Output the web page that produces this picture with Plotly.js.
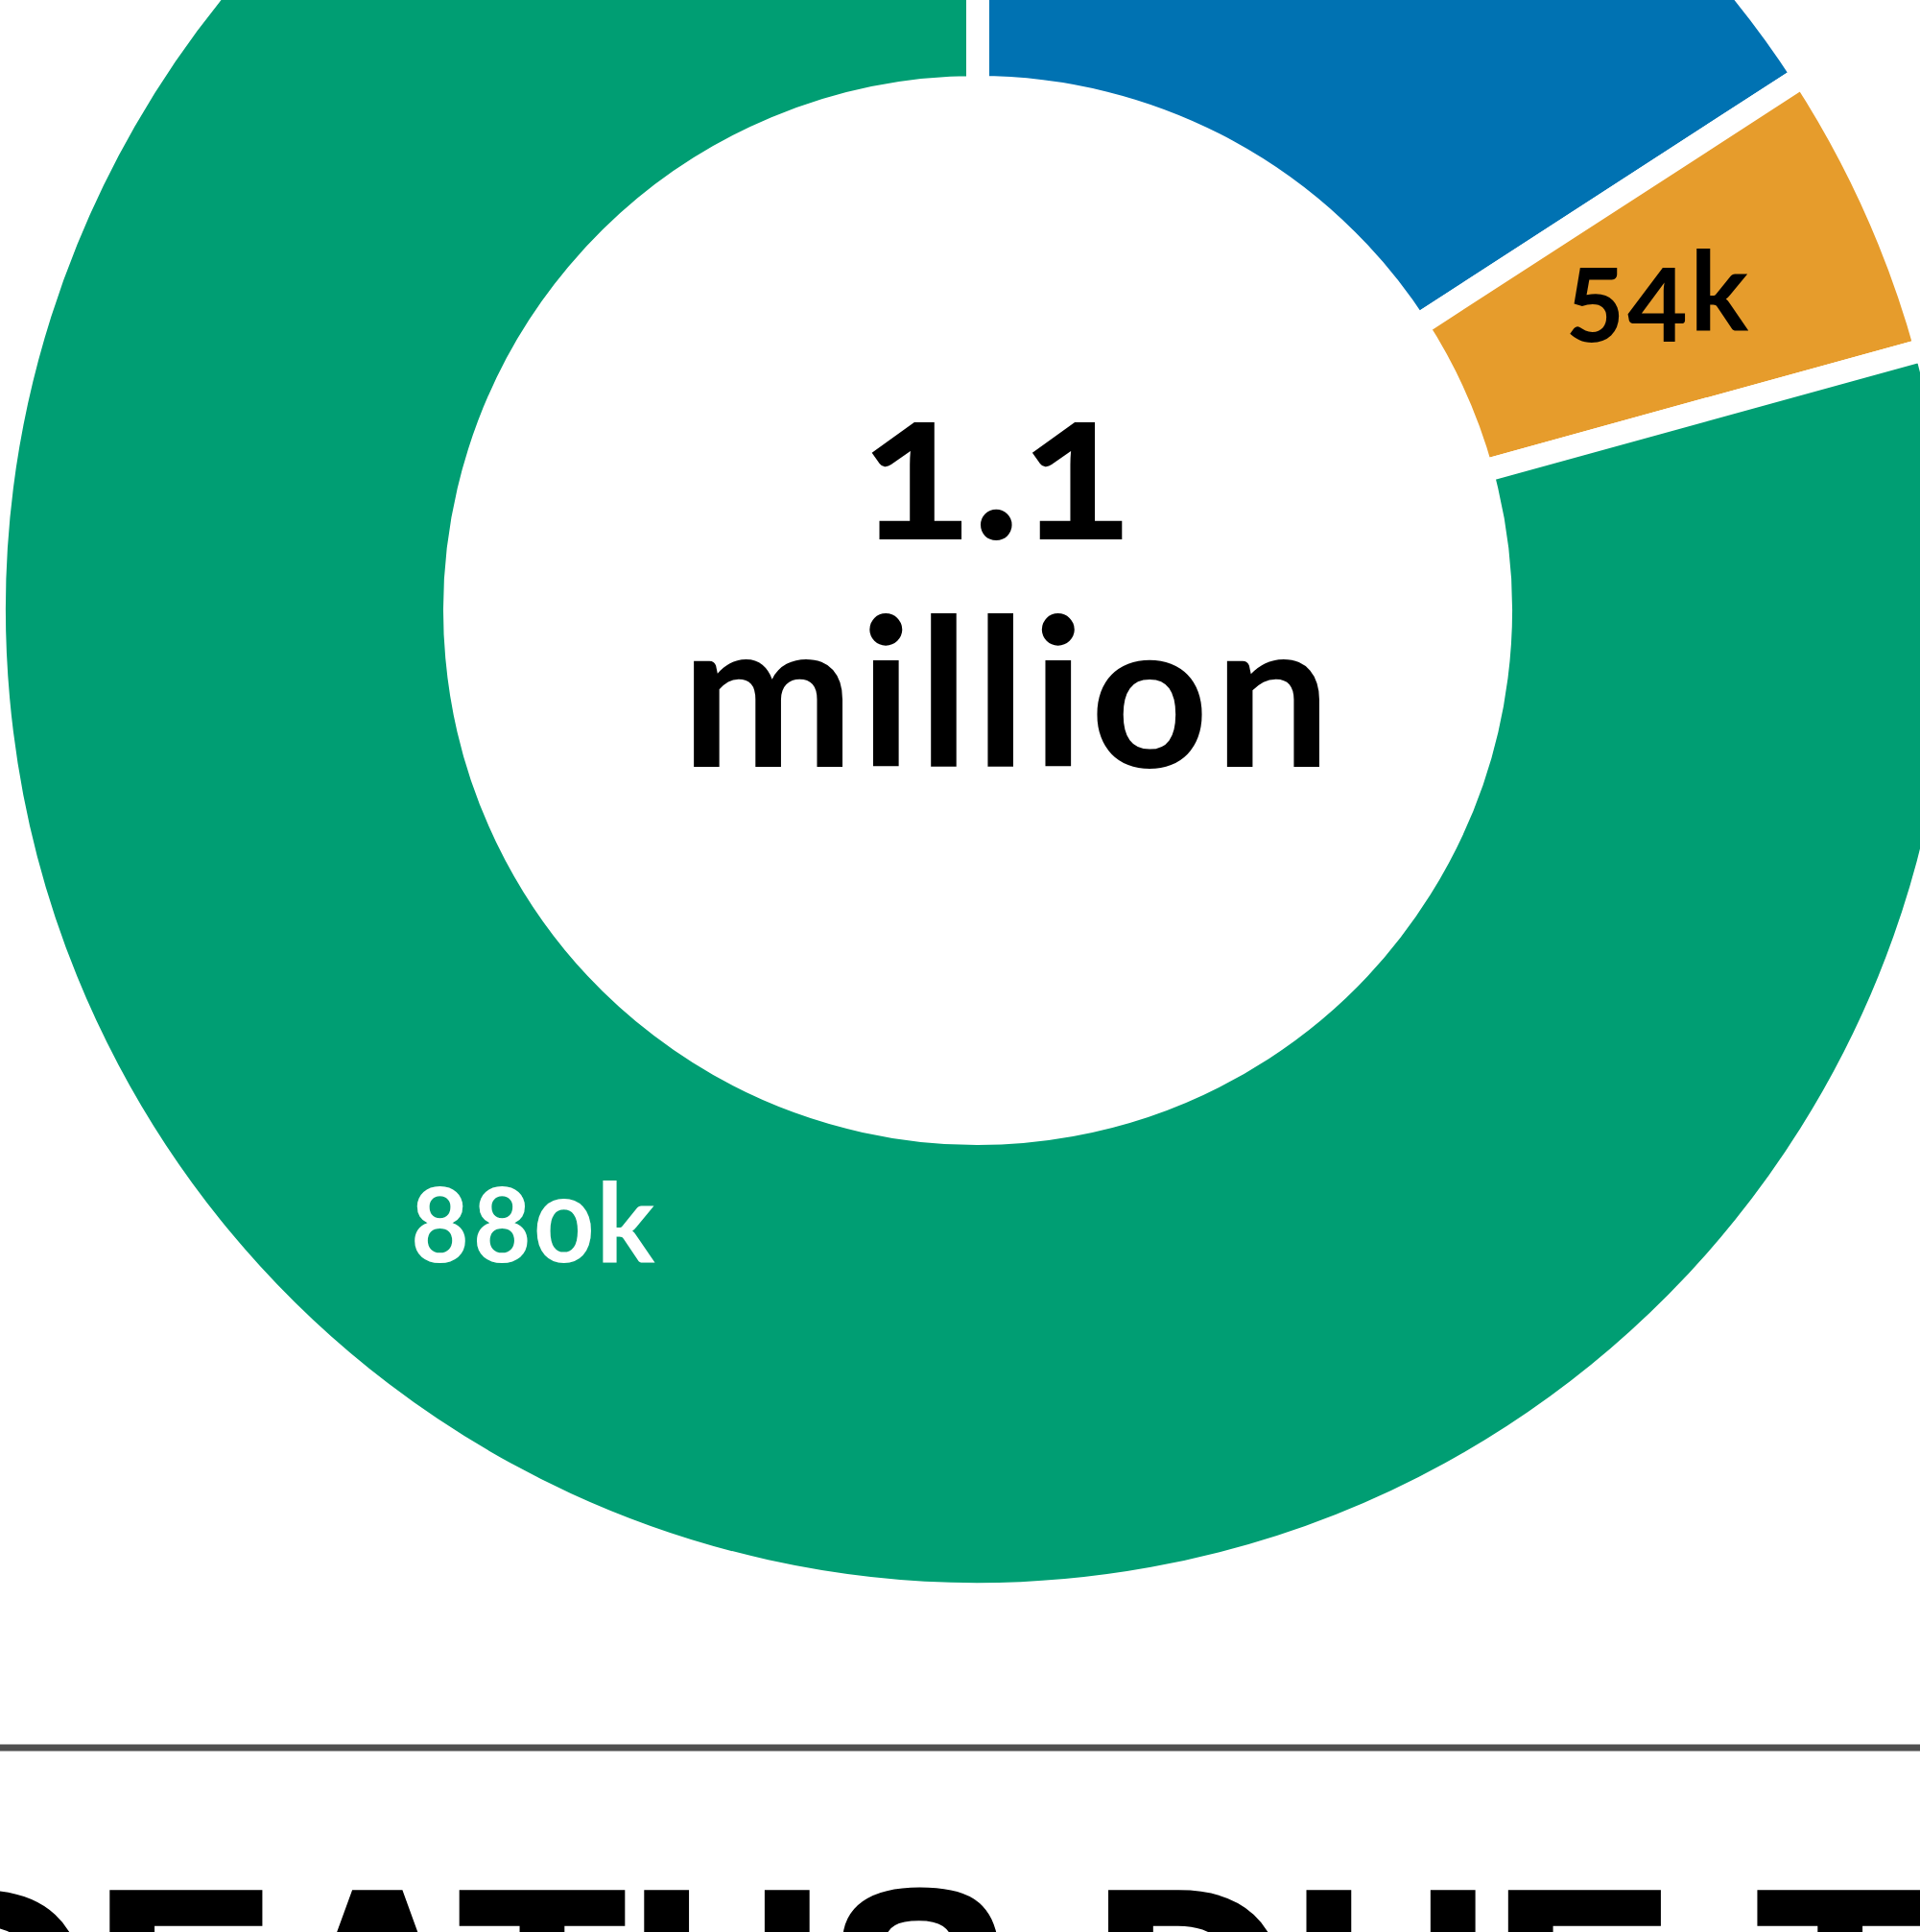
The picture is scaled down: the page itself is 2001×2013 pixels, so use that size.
<!DOCTYPE html>
<html>
<head>
<meta charset="utf-8">
<script src="https://cdn.plot.ly/plotly-3.0.1.min.js"></script>
<style>
  html, body { margin:0; padding:0; background:#ffffff; overflow:hidden; width:2001px; height:2013px; }
  #chart { position:absolute; left:-200px; top:-500px; width:2400px; height:3000px; }
  #chart svg text { font-variant-numeric: oldstyle-nums; font-feature-settings: "onum" 1; }
  #chart g.annotation[data-index="1"] text { letter-spacing: 6px; }
  #chart g.annotation[data-index="3"] text,
  #chart g.annotation[data-index="4"] text,
  #chart g.annotation[data-index="5"] text { letter-spacing: 3px; }
  #chart g.annotation[data-index="2"] text { stroke:#000000; stroke-width:6px; stroke-linejoin:miter; letter-spacing: 4px; }
</style>
</head>
<body>
<div id="chart"></div>
<script>
// ---- data ----
var categories = ["Blue group", "Orange group", "Green group"];
var values = [176, 54, 880];            // thousands
var sliceColors = ["#0072B2", "#E69C2C", "#009E73"];
var labelColors = ["#ffffff", "#000000", "#ffffff"];
var footerText = "DEATHS DUE TO";

var sliceText = values.map(function(v){ return v + "k"; });
var total = values.reduce(function(a,b){ return a+b; }, 0);
var totalLine1 = (total/1000).toFixed(1);
var totalLine2 = "million";

// ---- geometry (div px) ----
var W = 2400, H = 3000;
function px(x){ return x / W; }
function py(y){ return 1 - y / H; }
var cx = 1219, cy = 1136, R = 1025, hole = 0.5317;
var labelAngleNudge = -1.2 * Math.PI / 180;

var trace = {
  type: "pie",
  labels: categories,
  values: values,
  textinfo: "none",
  sort: false,
  direction: "clockwise",
  rotation: 0,
  hole: hole,
  marker: { colors: sliceColors, line: { color: "#ffffff", width: 24 } },
  domain: { x: [px(cx - R), px(cx + R)], y: [py(cy + R), py(cy - R)] },
  showlegend: false,
  hoverinfo: "none"
};

var annotations = [
  { text: totalLine1, xref:"paper", yref:"paper", x: px(1238), y: py(979),
    xanchor:"center", yanchor:"middle", showarrow:false,
    font: { family:"Lato", size:215, weight:"bold", color:"#000000" } },
  { text: totalLine2, xref:"paper", yref:"paper", x: px(1252), y: py(1216),
    xanchor:"center", yanchor:"middle", showarrow:false,
    font: { family:"Lato", size:215, weight:"bold", color:"#000000" } },
  { text: footerText, xref:"paper", yref:"paper", x: px(114), y: py(2409),
    xanchor:"left", yanchor:"top", showarrow:false,
    font: { family:"Liberation Sans", size:283, weight:"bold", color:"#000000" } }
];

// slice labels near the middle of each slice (mid angle, mid ring radius)
var rMid = R * (1 + hole) / 2;
var cum = 0;
values.forEach(function(v, i){
  var a0 = cum / total * 2 * Math.PI;
  cum += v;
  var a1 = cum / total * 2 * Math.PI;
  var am = (a0 + a1) / 2 + labelAngleNudge;
  annotations.push({
    text: sliceText[i], xref:"paper", yref:"paper",
    x: px(cx + rMid * Math.sin(am)), y: py(cy - rMid * Math.cos(am)),
    xanchor:"center", yanchor:"middle", showarrow:false,
    font: { family:"Lato", size:114, weight:"bold", color: labelColors[i] }
  });
});

var layout = {
  width: W, height: H,
  margin: { l:0, r:0, t:0, b:0, pad:0 },
  paper_bgcolor: "#ffffff",
  plot_bgcolor: "#ffffff",
  showlegend: false,
  shapes: [{
    type: "line", xref: "paper", yref: "paper",
    x0: 0, x1: 1, y0: py(2321), y1: py(2321),
    line: { color: "#505050", width: 7 }
  }],
  annotations: annotations
};

Plotly.newPlot("chart", [trace], layout, { staticPlot: true, displayModeBar: false });
</script>
</body>
</html>
